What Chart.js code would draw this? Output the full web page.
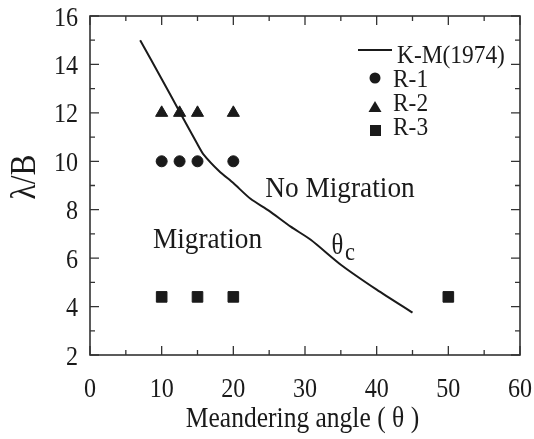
<!DOCTYPE html>
<html>
<head>
<meta charset="utf-8">
<script src="https://cdn.jsdelivr.net/npm/chart.js@4"></script>
<style>
  html, body { margin: 0; background: #fff; }
  #wrap { width: 534px; height: 439px; }
</style>
</head>
<body>
<div id="wrap"><canvas id="myChart"></canvas></div>
<script>
// K-M(1974) critical curve
var kmAngle = [7, 10, 12.5, 15, 15.8, 18, 20, 22.4, 25, 28, 30.8, 35, 40, 45],
  kmRatio = [15, 13.4, 12.05, 10.7, 10.3, 9.6, 9.1, 8.45, 7.95, 7.3, 6.76, 5.73, 4.7, 3.75]

// runs
var r1Angle = [10, 12.5, 15, 20],
  r1Ratio = [10, 10, 10, 10]
var r2Angle = [10, 12.5, 15, 20],
  r2Ratio = [12, 12, 12, 12]
var r3Angle = [10, 15, 20, 50],
  r3Ratio = [4.4, 4.4, 4.4, 4.4]

var xTicks = [0, 10, 20, 30, 40, 50, 60],
  yTicks = [2, 4, 6, 8, 10, 12, 14, 16]

var serif = '"Liberation Serif", "DejaVu Serif", serif'
var ink = '#1a1a1a'

function pts(xs, ys) {
  return xs.map(function (x, i) { return { x: x, y: ys[i] } })
}

// the figure's type is a bit narrow, so squeeze it sideways
function txt(ctx, s, x, y, size, align, k) {
  ctx.save()
  ctx.translate(x, y)
  ctx.scale(k || 0.9, 1)
  ctx.font = size + 'px ' + serif
  ctx.textAlign = align || 'center'
  ctx.textBaseline = 'alphabetic'
  ctx.fillText(s, 0, 0)
  ctx.restore()
}

// frame, inward ticks, tick labels, legend and labels
var decor = {
  id: 'decor',
  afterDraw: function (chart) {
    var ctx = chart.ctx, a = chart.chartArea
    var xs = chart.scales.x, ys = chart.scales.y
    ctx.save()
    ctx.strokeStyle = '#333'
    ctx.lineWidth = 1.6
    ctx.strokeRect(a.left, a.top, a.right - a.left, a.bottom - a.top)

    ctx.lineWidth = 1.3
    for (var v = 0; v <= 60; v += 5) {
      var px = xs.getPixelForValue(v)
      var len = v % 10 === 0 ? 9 : 5
      ctx.beginPath()
      ctx.moveTo(px, a.bottom); ctx.lineTo(px, a.bottom - len)
      ctx.moveTo(px, a.top); ctx.lineTo(px, a.top + len)
      ctx.stroke()
    }
    for (var w = 2; w <= 16; w += 1) {
      var py = ys.getPixelForValue(w)
      var l2 = w % 2 === 0 ? 9 : 5
      ctx.beginPath()
      ctx.moveTo(a.left, py); ctx.lineTo(a.left + l2, py)
      ctx.moveTo(a.right, py); ctx.lineTo(a.right - l2, py)
      ctx.stroke()
    }

    ctx.fillStyle = ink
    ctx.strokeStyle = ink

    // tick labels
    xs.ticks.forEach(function (t) {
      txt(ctx, String(t.value), xs.getPixelForValue(t.value), 397, 28, 'center', 0.86)
    })
    ys.ticks.forEach(function (t) {
      txt(ctx, String(t.value), 78, ys.getPixelForValue(t.value) + 9.5, 28, 'right', 0.86)
    })

    // legend
    ctx.lineWidth = 2
    ctx.beginPath(); ctx.moveTo(358, 50); ctx.lineTo(392, 50); ctx.stroke()
    txt(ctx, 'K-M(1974)', 397, 63, 26, 'left', 0.9)
    ctx.beginPath(); ctx.arc(375, 78, 5.5, 0, Math.PI * 2); ctx.fill()
    txt(ctx, 'R-1', 393, 87, 26, 'left', 0.9)
    ctx.beginPath(); ctx.moveTo(375, 101); ctx.lineTo(381.5, 112); ctx.lineTo(368.5, 112); ctx.closePath(); ctx.fill()
    txt(ctx, 'R-2', 393, 111, 26, 'left', 0.9)
    ctx.fillRect(370, 125, 11, 11)
    txt(ctx, 'R-3', 393, 135, 26, 'left', 0.9)

    // region labels
    txt(ctx, 'No Migration', 340, 197, 30, 'center', 0.91)
    txt(ctx, 'Migration', 207.5, 248, 30, 'center', 0.91)
    txt(ctx, '\u03b8', 337.5, 254, 29, 'center', 0.85)
    txt(ctx, 'c', 350, 260, 25, 'center', 0.9)

    // axis titles
    txt(ctx, 'Meandering angle ( \u03b8 )', 302.5, 427, 29, 'center', 0.88)
    ctx.save()
    ctx.translate(35, 177)
    ctx.rotate(-Math.PI / 2)
    txt(ctx, '\u03bb/B', 0, 0, 35, 'center', 0.9)
    ctx.restore()
    ctx.restore()
  }
}

var ctx = document.getElementById('myChart').getContext('2d')
var myChart = new Chart(ctx, {
  type: 'scatter',
  data: {
    datasets: [
      {
        label: 'K-M(1974)',
        data: pts(kmAngle, kmRatio),
        showLine: true,
        borderColor: ink,
        borderWidth: 2,
        pointRadius: 0,
        tension: 0.25,
      },
      {
        label: 'R-1',
        data: pts(r1Angle, r1Ratio),
        pointStyle: 'circle',
        pointRadius: 5.5,
        backgroundColor: ink,
        borderColor: ink,
      },
      {
        label: 'R-2',
        data: pts(r2Angle, r2Ratio),
        pointStyle: 'triangle',
        pointRadius: 7,
        backgroundColor: ink,
        borderColor: ink,
      },
      {
        label: 'R-3',
        data: pts(r3Angle, r3Ratio),
        pointStyle: 'rect',
        pointRadius: 7.5,
        backgroundColor: ink,
        borderColor: ink,
      },
    ],
  },
  options: {
    responsive: true,
    maintainAspectRatio: false,
    animation: false,
    layout: { padding: { top: 16, right: 14, left: 0, bottom: 0 } },
    plugins: { legend: { display: false }, tooltip: { enabled: false } },
    scales: {
      x: {
        type: 'linear',
        min: 0,
        max: 60,
        afterFit: function (s) { s.height = 84; s.paddingLeft = 0; s.paddingRight = 0 },
        afterBuildTicks: function (s) { s.ticks = xTicks.map(function (v) { return { value: v } }) },
        grid: { display: false },
        border: { display: false },
        ticks: { display: false },
      },
      y: {
        type: 'linear',
        min: 2,
        max: 16,
        afterFit: function (s) { s.width = 90; s.paddingTop = 0; s.paddingBottom = 0 },
        afterBuildTicks: function (s) { s.ticks = yTicks.map(function (v) { return { value: v } }) },
        grid: { display: false },
        border: { display: false },
        ticks: { display: false },
      },
    },
  },
  plugins: [decor],
})
</script>
</body>
</html>
